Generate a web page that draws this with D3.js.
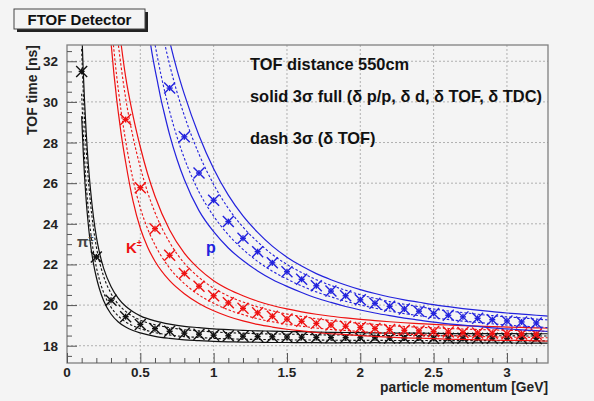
<!DOCTYPE html>
<html><head><meta charset="utf-8">
<script src="https://cdn.jsdelivr.net/npm/d3@7"></script>
<style>
html,body{margin:0;padding:0;background:#f4f4f4;}
svg{display:block;font-family:"Liberation Sans",Arial,Helvetica,sans-serif;}
</style></head><body>
<svg id="chart" width="594" height="401"></svg>
<script>
// Momentum samples [GeV], flight time over 550 cm [ns], 3-sigma half widths [ns]
const pionP = [0.10,0.11,0.12,0.13,0.14,0.16,0.18,0.20,0.22,0.25,0.30,0.35,0.40,0.45,0.50,0.60,0.70,0.80,0.90,
  1.0,1.1,1.2,1.3,1.4,1.5,1.6,1.7,1.8,1.9,2.0,2.1,2.2,2.3,2.4,2.5,2.6,2.7,2.8,2.9,3.0,3.1,3.2,3.28];
const pionT = [31.50,29.64,28.14,26.92,25.91,24.35,23.22,22.37,21.73,21.01,20.24,19.75,19.43,19.21,19.05,18.84,18.71,18.62,18.57,
  18.52,18.49,18.47,18.45,18.44,18.43,18.42,18.41,18.40,18.40,18.39,18.39,18.38,18.38,18.38,18.37,18.37,18.37,18.37,18.37,18.37,18.36,18.36,18.36];
const pionFull = [2.20,2.00,1.85,1.70,1.55,1.35,1.15,1.00,0.90,0.80,0.68,0.58,0.51,0.46,0.42,0.38,0.35,0.33,0.32,
  0.31,0.30,0.29,0.28,0.28,0.27,0.27,0.26,0.26,0.25,0.25,0.24,0.24,0.24,0.24,0.24,0.23,0.23,0.23,0.23,0.23,0.23,0.23,0.23];
const pionTof = [1.10,1.00,0.92,0.85,0.78,0.68,0.58,0.50,0.45,0.40,0.34,0.29,0.26,0.23,0.21,0.19,0.18,0.17,0.16,
  0.16,0.15,0.15,0.14,0.14,0.14,0.14,0.13,0.13,0.13,0.13,0.12,0.12,0.12,0.12,0.12,0.12,0.12,0.12,0.12,0.12,0.12,0.12,0.12];

const kaonP = [0.29,0.30,0.32,0.34,0.35,0.37,0.40,0.45,0.50,0.55,0.60,0.70,0.80,0.90,
  1.0,1.1,1.2,1.3,1.4,1.5,1.6,1.7,1.8,1.9,2.0,2.1,2.2,2.3,2.4,2.5,2.6,2.7,2.8,2.9,3.0,3.1,3.2,3.28];
const kaonT = [36.22,35.33,33.73,32.35,31.72,30.59,29.13,27.23,25.78,24.65,23.76,22.45,21.56,20.93,
  20.46,20.11,19.84,19.62,19.45,19.31,19.20,19.10,19.02,18.96,18.90,18.85,18.80,18.76,18.73,18.70,18.67,18.65,18.63,18.61,18.59,18.58,18.56,18.55];
const kaonFull = [2.40,2.40,2.35,2.30,2.25,2.20,2.10,2.10,2.00,1.80,1.60,1.25,1.00,0.85,
  0.74,0.67,0.62,0.57,0.53,0.50,0.47,0.45,0.43,0.41,0.40,0.39,0.38,0.37,0.36,0.35,0.35,0.34,0.34,0.33,0.33,0.32,0.32,0.32];
const kaonTof = [1.20,1.20,1.18,1.15,1.12,1.10,1.05,1.05,1.00,0.90,0.80,0.63,0.50,0.43,
  0.37,0.34,0.31,0.29,0.27,0.25,0.24,0.23,0.22,0.21,0.20,0.20,0.19,0.19,0.18,0.18,0.18,0.17,0.17,0.17,0.17,0.16,0.16,0.16];

const protonP = [0.56,0.58,0.60,0.62,0.64,0.66,0.70,0.75,0.80,0.90,
  1.0,1.1,1.2,1.3,1.4,1.5,1.6,1.7,1.8,1.9,2.0,2.1,2.2,2.3,2.4,2.5,2.6,2.7,2.8,2.9,3.0,3.1,3.2,3.28];
const protonT = [35.80,34.89,34.05,33.28,32.56,31.89,30.68,29.38,28.28,26.50,
  25.16,24.11,23.29,22.63,22.08,21.64,21.27,20.95,20.69,20.46,20.26,20.09,19.94,19.81,19.70,19.59,19.50,19.42,19.35,19.28,19.22,19.17,19.12,19.08];
const protonFull = [2.50,2.50,2.45,2.40,2.40,2.35,2.30,2.20,2.10,1.85,
  1.55,1.30,1.10,0.95,0.82,0.72,0.65,0.60,0.56,0.53,0.50,0.48,0.46,0.45,0.44,0.43,0.42,0.41,0.40,0.40,0.39,0.39,0.38,0.38];
const protonTof = [1.25,1.25,1.22,1.20,1.20,1.18,1.15,1.10,1.05,0.93,
  0.78,0.65,0.55,0.48,0.41,0.36,0.33,0.30,0.28,0.27,0.25,0.24,0.23,0.23,0.22,0.22,0.21,0.21,0.20,0.20,0.20,0.20,0.19,0.19];

const xTicks = [0, 0.5, 1, 1.5, 2, 2.5, 3];
const yTicks = [18, 20, 22, 24, 26, 28, 30, 32];
const xTickLabels = ["0", "0.5", "1", "1.5", "2", "2.5", "3"];

const species = [
  {p: pionP, t: pionT, full: pionFull, tof: pionTof, color: "#111111"},
  {p: kaonP, t: kaonT, full: kaonFull, tof: kaonTof, color: "#ee1111"},
  {p: protonP, t: protonT, full: protonFull, tof: protonTof, color: "#2222dd"}
];

const W = 594, H = 401;
const frame = {left: 67, right: 548, top: 45, bottom: 363};
const svg = d3.select("#chart");

const x = d3.scaleLinear().domain([0, 3.28]).range([frame.left, frame.right]);
const y = d3.scaleLinear().domain([17.15, 32.8]).range([frame.bottom, frame.top]);

// pad background
svg.append("rect").attr("x", 0).attr("y", 0).attr("width", W).attr("height", H).attr("fill", "#f4f4f4");

svg.append("defs").append("clipPath").attr("id", "plotClip")
  .append("rect").attr("x", frame.left).attr("y", frame.top)
  .attr("width", frame.right - frame.left).attr("height", frame.bottom - frame.top);

// grid
const grid = svg.append("g").attr("stroke", "#b0b0b0").attr("stroke-width", 1).attr("stroke-dasharray", "2,2");
xTicks.filter(v => v > 0).forEach(v => {
  grid.append("line").attr("x1", x(v)).attr("x2", x(v)).attr("y1", frame.top).attr("y2", frame.bottom);
});
yTicks.forEach(v => {
  grid.append("line").attr("x1", frame.left).attr("x2", frame.right).attr("y1", y(v)).attr("y2", y(v));
});

// bands
const plot = svg.append("g").attr("clip-path", "url(#plotClip)");
species.forEach(s => {
  const idx = d3.range(s.p.length);
  const mk = (sign, arr) => d3.line().curve(d3.curveMonotoneX)
    .x(i => x(s.p[i])).y(i => y(s.t[i] + sign * arr[i]))(idx);
  [1, -1].forEach(sign => {
    plot.append("path").attr("d", mk(sign, s.full)).attr("fill", "none")
      .attr("stroke", s.color).attr("stroke-width", 1.2);
    plot.append("path").attr("d", mk(sign, s.tof)).attr("fill", "none")
      .attr("stroke", s.color).attr("stroke-width", 1.1).attr("stroke-dasharray", "2.5,2");
  });
  // star markers at every 0.1 GeV
  idx.filter(i => Math.abs(s.p[i] * 10 - Math.round(s.p[i] * 10)) < 1e-6).forEach(i => {
    const cx = x(s.p[i]), cy = y(s.t[i]);
    const g = plot.append("g").attr("stroke", s.color).attr("stroke-width", 1.4);
    const a = 5.5, b = 3;
    g.append("line").attr("x1", cx - a).attr("y1", cy - a).attr("x2", cx + a).attr("y2", cy + a);
    g.append("line").attr("x1", cx - a).attr("y1", cy + a).attr("x2", cx + a).attr("y2", cy - a);
    g.append("line").attr("x1", cx - b).attr("y1", cy).attr("x2", cx + b).attr("y2", cy);
    g.append("line").attr("x1", cx).attr("y1", cy - b).attr("x2", cx).attr("y2", cy + b);
  });
});

// frame
svg.append("rect").attr("x", frame.left).attr("y", frame.top)
  .attr("width", frame.right - frame.left).attr("height", frame.bottom - frame.top)
  .attr("fill", "none").attr("stroke", "#808080").attr("stroke-width", 1.3);

// axes with inward ticks
const xAxis = d3.axisTop(x).tickValues(xTicks).tickSize(10).tickFormat("");
svg.append("g").attr("transform", `translate(0,${frame.bottom})`).call(xAxis)
  .call(g => g.select(".domain").remove())
  .call(g => g.selectAll("line").attr("stroke", "#555"));
const xMinor = d3.axisTop(x).tickValues(d3.range(0, 3.281, 0.1).filter(v => Math.abs(v * 2 - Math.round(v * 2)) > 1e-6)).tickSize(5).tickFormat("");
svg.append("g").attr("transform", `translate(0,${frame.bottom})`).call(xMinor)
  .call(g => g.select(".domain").remove())
  .call(g => g.selectAll("line").attr("stroke", "#555"));

const yAxis = d3.axisRight(y).tickValues(yTicks).tickSize(10).tickFormat("");
svg.append("g").attr("transform", `translate(${frame.left},0)`).call(yAxis)
  .call(g => g.select(".domain").remove())
  .call(g => g.selectAll("line").attr("stroke", "#555"));
const yMinor = d3.axisRight(y).tickValues(d3.range(17.5, 32.8, 0.5).filter(v => v % 2 !== 0)).tickSize(5).tickFormat("");
svg.append("g").attr("transform", `translate(${frame.left},0)`).call(yMinor)
  .call(g => g.select(".domain").remove())
  .call(g => g.selectAll("line").attr("stroke", "#555"));

// tick labels
const labels = svg.append("g").attr("font-weight", "bold").attr("font-size", 13.5).attr("fill", "#222");
xTicks.forEach((v, i) => {
  labels.append("text").attr("x", x(v)).attr("y", frame.bottom + 13.5).attr("text-anchor", "middle").text(xTickLabels[i]);
});
yTicks.forEach(v => {
  labels.append("text").attr("x", frame.left - 9).attr("y", y(v) + 5).attr("text-anchor", "end").text(v);
});

// axis titles
svg.append("text").attr("x", frame.right).attr("y", 392).attr("text-anchor", "end")
  .attr("font-weight", "bold").attr("font-size", 13.8).attr("fill", "#222").text("particle momentum [GeV]");
svg.append("text").attr("transform", `translate(37,${frame.top}) rotate(-90)`).attr("text-anchor", "end")
  .attr("font-weight", "bold").attr("font-size", 14).attr("fill", "#222").text("TOF time [ns]");

// annotations
const notes = svg.append("g").attr("font-weight", "bold").attr("font-size", 16.4).attr("fill", "#111");
notes.append("text").attr("x", 250).attr("y", 70).text("TOF distance 550cm");
notes.append("text").attr("x", 250).attr("y", 102).text("solid 3\u03C3 full (\u03B4 p/p, \u03B4 d, \u03B4 TOF, \u03B4 TDC)");
notes.append("text").attr("x", 250).attr("y", 144).text("dash 3\u03C3 (\u03B4 TOF)");

// particle labels
const pl = svg.append("g").attr("font-weight", "bold");
const pi = pl.append("text").attr("x", 77).attr("y", 247).attr("font-size", 15).attr("fill", "#444");
pi.append("tspan").text("\u03C0");
pi.append("tspan").attr("font-size", 9).attr("dy", -6).text("\u00B1");
const ka = pl.append("text").attr("x", 126).attr("y", 253).attr("font-size", 15).attr("fill", "#ee1111");
ka.append("tspan").text("K");
ka.append("tspan").attr("font-size", 9).attr("dy", -7).text("\u00B1");
pl.append("text").attr("x", 206).attr("y", 253).attr("font-size", 16).attr("fill", "#2222dd").text("p");

// title box with shadow
svg.append("rect").attr("x", 17).attr("y", 12).attr("width", 131).attr("height", 20).attr("fill", "#222");
svg.append("rect").attr("x", 14).attr("y", 9).attr("width", 131).attr("height", 20)
  .attr("fill", "#f4f4f4").attr("stroke", "#444").attr("stroke-width", 1);
svg.append("text").attr("x", 79.5).attr("y", 24.5).attr("text-anchor", "middle")
  .attr("font-weight", "bold").attr("font-size", 15).attr("fill", "#111").text("FTOF Detector");
</script>
</body></html>
